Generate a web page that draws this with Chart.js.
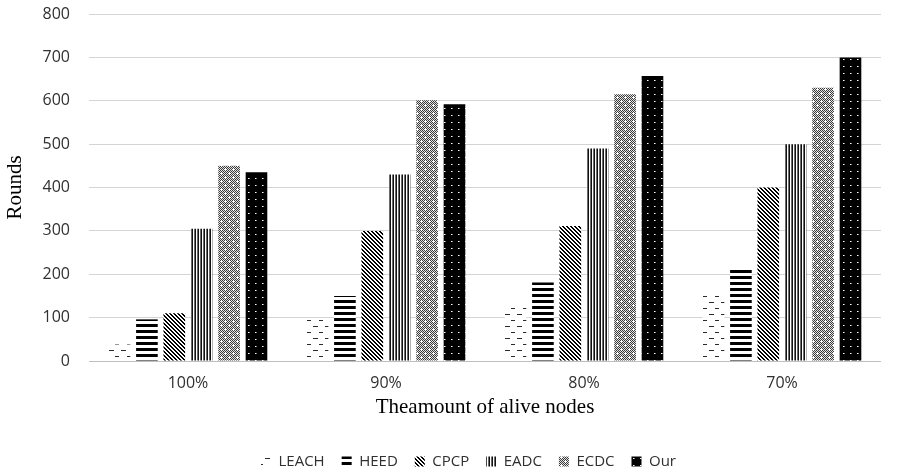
<!DOCTYPE html>
<html>
<head>
<meta charset="utf-8">
<script src="https://cdn.jsdelivr.net/npm/chart.js@4/dist/chart.umd.min.js"></script>
<style>
  html, body { margin: 0; padding: 0; background: #ffffff; }
  #wrap { width: 904px; height: 474px; }
</style>
</head>
<body>
<div id="wrap"><canvas id="c" width="904" height="474"></canvas></div>
<script>
// Rounds reached by each protocol for a given share of nodes still alive
const categories = ['100%', '90%', '80%', '70%'];
const leach = [38, 97, 124, 150];
const heed  = [96, 150, 181, 210];
const cpcp  = [110, 300, 311, 400];
const eadc  = [305, 430, 490, 500];
const ecdc  = [450, 601, 615, 630];
const ours  = [435, 592, 657, 700];
const seriesNames = ['LEACH', 'HEED', 'CPCP', 'EADC', 'ECDC', 'Our'];
const yMin = 0, yMax = 800, yStep = 100;

const canvas = document.getElementById('c');
const ctx = canvas.getContext('2d');

// Small repeating tiles used as monochrome bar fills
function tile(w, h, paint) {
  const t = document.createElement('canvas');
  t.width = w; t.height = h;
  const g = t.getContext('2d');
  g.fillStyle = '#ffffff';
  g.fillRect(0, 0, w, h);
  paint(g);
  return ctx.createPattern(t, 'repeat');
}

const fillLeach = tile(12, 12, g => {
  g.fillStyle = '#2a2a2a';
  g.fillRect(1, 2, 5, 1);
  g.fillRect(7, 8, 4, 1);
});
const fillHeed = tile(1, 6, g => {
  g.fillStyle = '#000000';
  g.fillRect(0, 0, 1, 3);
});
const fillCpcp = tile(4, 4, g => {
  g.fillStyle = '#000000';
  for (let y = 0; y < 4; y++) {
    for (let x = 0; x < 4; x++) {
      const d = ((x - y) % 4 + 4) % 4;
      if (d === 0 || d === 1) g.fillRect(x, y, 1, 1);
    }
  }
});
const fillEadc = tile(3, 1, g => {
  g.fillStyle = '#111111'; g.fillRect(0, 0, 1, 1);
  g.fillStyle = '#6b6b6b'; g.fillRect(2, 0, 1, 1);
});
const fillEcdc = tile(8, 8, g => {
  for (let y = 0; y < 8; y++) {
    for (let x = 0; x < 8; x++) {
      g.fillStyle = (x + y) % 2 === 0 ? '#3a3a3a' : '#e2e2e2';
      g.fillRect(x, y, 1, 1);
    }
  }
  g.fillStyle = '#ffffff';
  [[1, 1], [5, 5]].forEach(([cx, cy]) => {
    g.fillRect(cx, cy, 1, 1);
    g.fillRect(cx - 1, cy, 3, 1);
    g.fillRect(cx, cy - 1, 1, 3);
  });
});
const fillOurs = tile(7, 7, g => {
  g.fillStyle = '#000000';
  g.fillRect(0, 0, 7, 7);
  g.fillStyle = '#ffffff';
  g.fillRect(3, 3, 1, 1);
  g.fillStyle = '#8a8a8a';
  g.fillRect(4, 3, 1, 1);
});

const values = [leach, heed, cpcp, eadc, ecdc, ours];
const fills = [fillLeach, fillHeed, fillCpcp, fillEadc, fillEcdc, fillOurs];

const datasets = seriesNames.map((name, i) => ({
  label: name,
  data: values[i],
  backgroundColor: fills[i],
  borderWidth: 0,
  categoryPercentage: 0.83,
  barPercentage: 0.79
}));

// Center the legend row under the whole figure
const legendShift = {
  id: 'legendShift',
  afterLayout(chart) {
    const lg = chart.legend;
    if (!lg) return;
    const target = 468.5;
    const d = target - (lg.left + lg.right) / 2;
    lg.left += d;
    lg.right += d;
  }
};

const textColor = '#303030';

new Chart(canvas, {
  type: 'bar',
  data: { labels: categories, datasets },
  plugins: [legendShift],
  options: {
    responsive: false,
    animation: false,
    layout: { padding: { left: 0, right: 23, top: 14, bottom: 0 } },
    plugins: {
      tooltip: { enabled: false },
      legend: {
        position: 'bottom',
        maxHeight: 37,
        labels: {
          boxWidth: 10,
          boxHeight: 10,
          padding: 17,
          color: textColor,
          font: { family: 'Open Sans', size: 15 }
        }
      }
    },
    scales: {
      x: {
        grid: { display: false, drawTicks: false },
        border: { display: false },
        ticks: {
          padding: 13,
          color: textColor,
          font: { family: 'Open Sans', size: 16 }
        },
        title: {
          display: true,
          text: 'Theamount of alive nodes',
          color: '#000000',
          font: { family: 'Liberation Serif', size: 21 },
          padding: { top: 0, bottom: 17 }
        },
        afterFit(scale) { scale.height = 76; }
      },
      y: {
        min: yMin,
        max: yMax,
        grid: {
          drawTicks: false,
          lineWidth: 1,
          color: c => (c.tick && c.tick.value === 0 ? '#bfbfbf' : '#d4d4d4')
        },
        border: { display: false },
        ticks: {
          stepSize: yStep,
          padding: 19,
          color: textColor,
          font: { family: 'Open Sans', size: 16 }
        },
        title: {
          display: true,
          text: 'Rounds',
          color: '#000000',
          font: { family: 'Liberation Serif', size: 21 },
          padding: { top: 3, bottom: 0 }
        },
        afterFit(scale) {
          scale.width = 89;
          scale.paddingTop = 0;
          scale.paddingBottom = 0;
        }
      }
    }
  }
});
</script>
</body>
</html>
